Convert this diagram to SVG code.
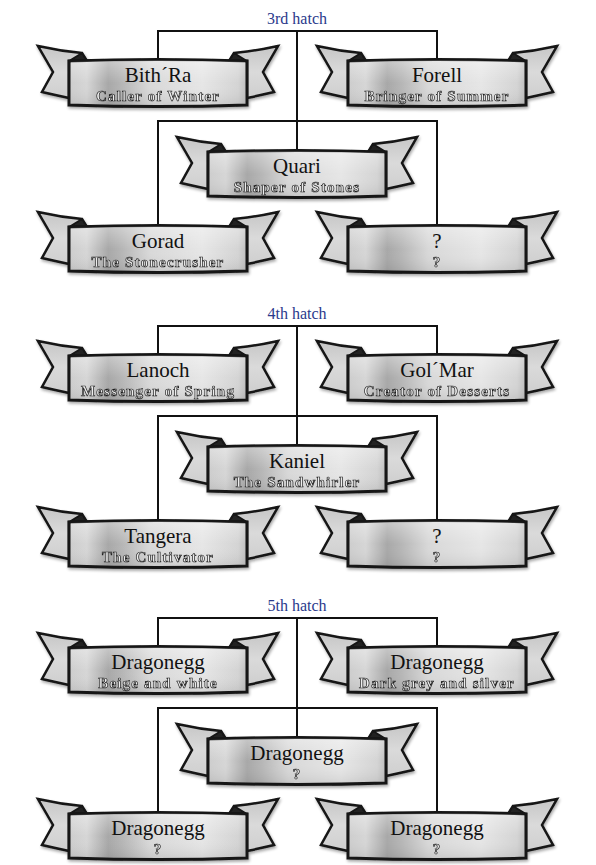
<svg xmlns="http://www.w3.org/2000/svg" xmlns:xlink="http://www.w3.org/1999/xlink" width="596" height="865" viewBox="0 0 596 865">
<style>
  .conn { fill: none; stroke: #111; stroke-width: 2; }
  .label { font-family: "Liberation Serif", "DejaVu Serif", serif; font-size: 16px; fill: #2b3a8c; text-anchor: middle; }
  .name { font-family: "Liberation Serif", "DejaVu Serif", serif; font-size: 21px; fill: #111; text-anchor: middle; }
  .sub { font-family: "Liberation Serif", "DejaVu Serif", serif; font-size: 15px; font-weight: bold; letter-spacing: 1.2px; fill: #eeeeee; stroke: #1a1a1a; stroke-width: 0.7; text-anchor: middle; opacity: 0.99; }
  .tail { fill: url(#tailGrad); stroke: #151515; stroke-width: 2.5; stroke-linejoin: miter; }
  .fold { fill: #222; stroke: #151515; stroke-width: 1.5; stroke-linejoin: round; }
  .front { fill: url(#frontGrad); stroke: #151515; stroke-width: 3; }
  .gloss { fill: url(#glossGrad); stroke: none; }
</style>
<defs>
  <linearGradient id="frontGrad" x1="0" y1="0" x2="1" y2="0">
    <stop offset="0" stop-color="#cdcdcd"/>
    <stop offset="0.1" stop-color="#d6d6d6"/>
    <stop offset="0.22" stop-color="#a8a8a8"/>
    <stop offset="0.3" stop-color="#b6b6b6"/>
    <stop offset="0.45" stop-color="#d8d8d8"/>
    <stop offset="0.75" stop-color="#e6e6e6"/>
    <stop offset="0.95" stop-color="#d4d4d4"/>
    <stop offset="1" stop-color="#bebebe"/>
  </linearGradient>
  <linearGradient id="glossGrad" x1="0" y1="0" x2="0" y2="1">
    <stop offset="0" stop-color="#ffffff" stop-opacity="0.35"/>
    <stop offset="0.5" stop-color="#ffffff" stop-opacity="0"/>
    <stop offset="1" stop-color="#000000" stop-opacity="0.08"/>
  </linearGradient>
  <linearGradient id="tailGrad" x1="0" y1="0" x2="0" y2="1">
    <stop offset="0" stop-color="#c6c6c6"/>
    <stop offset="0.5" stop-color="#dadada"/>
    <stop offset="1" stop-color="#cfcfcf"/>
  </linearGradient>
  <filter id="shadow" x="-10%" y="-20%" width="120%" height="150%">
    <feGaussianBlur in="SourceAlpha" stdDeviation="1.5"/>
    <feOffset dx="1" dy="2" result="b"/>
    <feComponentTransfer><feFuncA type="linear" slope="0.35"/></feComponentTransfer>
    <feMerge><feMergeNode/><feMergeNode in="SourceGraphic"/></feMerge>
  </filter>
  <g id="banner">
    <g filter="url(#shadow)">
      <path class="tail" d="M-120,-15 Q-98,-10 -76,-8 L-71,0 L-89,0 L-89,37 Q-103,34 -116,31 L-105,11 Z"/>
      <path class="tail" d="M120,-15 Q98,-10 76,-8 L71,0 L89,0 L89,37 Q103,34 116,31 L105,11 Z"/>
      <path class="fold" d="M-89,0 L-76,-8 L-71,0 Z"/>
      <path class="fold" d="M89,0 L76,-8 L71,0 Z"/>
      <path class="front" d="M-89,0 Q0,-3 89,0 L89,44 Q0,47 -89,44 Z"/>
    </g>
    <path class="gloss" d="M-87,1 Q0,-2 87,1 L87,43 Q0,46 -87,43 Z"/>
  </g>
</defs>
<rect width="596" height="865" fill="#ffffff"/>

<g id="connectors">
  <path class="conn" d="M158,61 V31 H437 V61"/>
  <path class="conn" d="M297,31 V152"/>
  <path class="conn" d="M158,227 V121 H437 V227"/>
  <path class="conn" d="M158,356 V326 H437 V356"/>
  <path class="conn" d="M297,326 V447"/>
  <path class="conn" d="M158,522 V416 H437 V522"/>
  <path class="conn" d="M158,648 V618 H437 V648"/>
  <path class="conn" d="M297,618 V739"/>
  <path class="conn" d="M158,814 V708 H437 V814"/>
</g>

<g id="labels">
  <text class="label" x="297" y="24">3rd hatch</text>
  <text class="label" x="297" y="319">4th hatch</text>
  <text class="label" x="297" y="611">5th hatch</text>
</g>

<g id="node-bithra" transform="translate(158,61)">
  <use href="#banner"/>
  <text class="name" x="0" y="21">Bith´Ra</text>
  <text class="sub" x="0" y="40">Caller of Winter</text>
</g>
<g id="node-forell" transform="translate(437,61)">
  <use href="#banner"/>
  <text class="name" x="0" y="21">Forell</text>
  <text class="sub" x="0" y="40">Bringer of Summer</text>
</g>
<g id="node-quari" transform="translate(297,152)">
  <use href="#banner"/>
  <text class="name" x="0" y="21">Quari</text>
  <text class="sub" x="0" y="40">Shaper of Stones</text>
</g>
<g id="node-gorad" transform="translate(158,227)">
  <use href="#banner"/>
  <text class="name" x="0" y="21">Gorad</text>
  <text class="sub" x="0" y="40">The Stonecrusher</text>
</g>
<g id="node-unknown3" transform="translate(437,227)">
  <use href="#banner"/>
  <text class="name" x="0" y="21">?</text>
  <text class="sub" x="0" y="40">?</text>
</g>

<g id="node-lanoch" transform="translate(158,356)">
  <use href="#banner"/>
  <text class="name" x="0" y="21">Lanoch</text>
  <text class="sub" x="0" y="40">Messenger of Spring</text>
</g>
<g id="node-golmar" transform="translate(437,356)">
  <use href="#banner"/>
  <text class="name" x="0" y="21">Gol´Mar</text>
  <text class="sub" x="0" y="40">Creator of Desserts</text>
</g>
<g id="node-kaniel" transform="translate(297,447)">
  <use href="#banner"/>
  <text class="name" x="0" y="21">Kaniel</text>
  <text class="sub" x="0" y="40">The Sandwhirler</text>
</g>
<g id="node-tangera" transform="translate(158,522)">
  <use href="#banner"/>
  <text class="name" x="0" y="21">Tangera</text>
  <text class="sub" x="0" y="40">The Cultivator</text>
</g>
<g id="node-unknown4" transform="translate(437,522)">
  <use href="#banner"/>
  <text class="name" x="0" y="21">?</text>
  <text class="sub" x="0" y="40">?</text>
</g>

<g id="node-egg1" transform="translate(158,648)">
  <use href="#banner"/>
  <text class="name" x="0" y="21">Dragonegg</text>
  <text class="sub" x="0" y="40">Beige and white</text>
</g>
<g id="node-egg2" transform="translate(437,648)">
  <use href="#banner"/>
  <text class="name" x="0" y="21">Dragonegg</text>
  <text class="sub" x="0" y="40">Dark grey and silver</text>
</g>
<g id="node-egg3" transform="translate(297,739)">
  <use href="#banner"/>
  <text class="name" x="0" y="21">Dragonegg</text>
  <text class="sub" x="0" y="40">?</text>
</g>
<g id="node-egg4" transform="translate(158,814)">
  <use href="#banner"/>
  <text class="name" x="0" y="21">Dragonegg</text>
  <text class="sub" x="0" y="40">?</text>
</g>
<g id="node-egg5" transform="translate(437,814)">
  <use href="#banner"/>
  <text class="name" x="0" y="21">Dragonegg</text>
  <text class="sub" x="0" y="40">?</text>
</g>
</svg>
